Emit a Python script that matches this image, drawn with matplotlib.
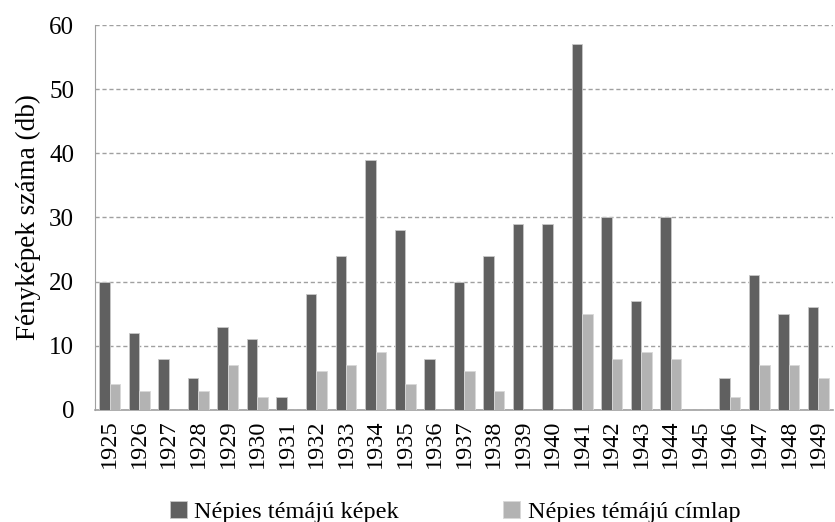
import numpy as np
import matplotlib
matplotlib.use('Agg')
import matplotlib.pyplot as plt

years = [str(y) for y in range(1925, 1950)]
kepek = [20, 12, 8, 5, 13, 11, 2, 18, 24, 39, 28, 8, 20, 24, 29, 29, 57, 30, 17, 30, 0, 5, 21, 15, 16]
cimlap = [4, 3, 0, 3, 7, 2, 0, 6, 7, 9, 4, 0, 6, 3, 0, 0, 15, 8, 9, 8, 0, 2, 7, 7, 5]
series_names = ['Népies témájú képek', 'Népies témájú címlap']

plt.rcParams['font.family'] = ['Liberation Serif', 'DejaVu Serif']

fig = plt.figure(figsize=(8.35, 5.22), dpi=100)
ax = fig.add_axes([0.1138, 0.2146, 0.884, 0.7375])

x = np.arange(len(years))
w = 0.355
ax.bar(x - w / 2, kepek, w, color='#606060', edgecolor='#c8c8c8', linewidth=0.6,
       label=series_names[0], zorder=3)
ax.bar(x + w / 2, cimlap, w, color='#b3b3b3', edgecolor='#d8d8d8', linewidth=0.6,
       label=series_names[1], zorder=3)

ax.set_xlim(-0.5, len(years) - 0.5)
ax.set_ylim(0, 60)
ax.set_yticks(range(0, 61, 10))
ax.set_xticks(x)
ax.set_xticklabels(years, rotation=90, fontsize=17.5)
ax.tick_params(axis='y', labelsize=18, length=0, pad=15)
ax.tick_params(axis='x', length=0, pad=7)

# dashed horizontal grid, drawn behind the bars
ax.yaxis.grid(True, linestyle=(0, (3, 2)), color='#a0a0a0', linewidth=1, zorder=0)
ax.set_axisbelow(True)
for s in ['top', 'right']:
    ax.spines[s].set_visible(False)
ax.spines['left'].set_color('#a0a0a0')
ax.spines['bottom'].set_color('#a0a0a0')
ax.spines['bottom'].set_linewidth(1.2)

ax.set_ylabel('Fényképek száma (db)', fontsize=19.5, labelpad=6)

fig.legend(loc='center', bbox_to_anchor=(0.545, 0.02), ncol=2, frameon=False,
           fontsize=17.5, handlelength=0.7, handleheight=0.7, handletextpad=0.3,
           columnspacing=4.3)

fig.savefig('out.png', dpi=100)
